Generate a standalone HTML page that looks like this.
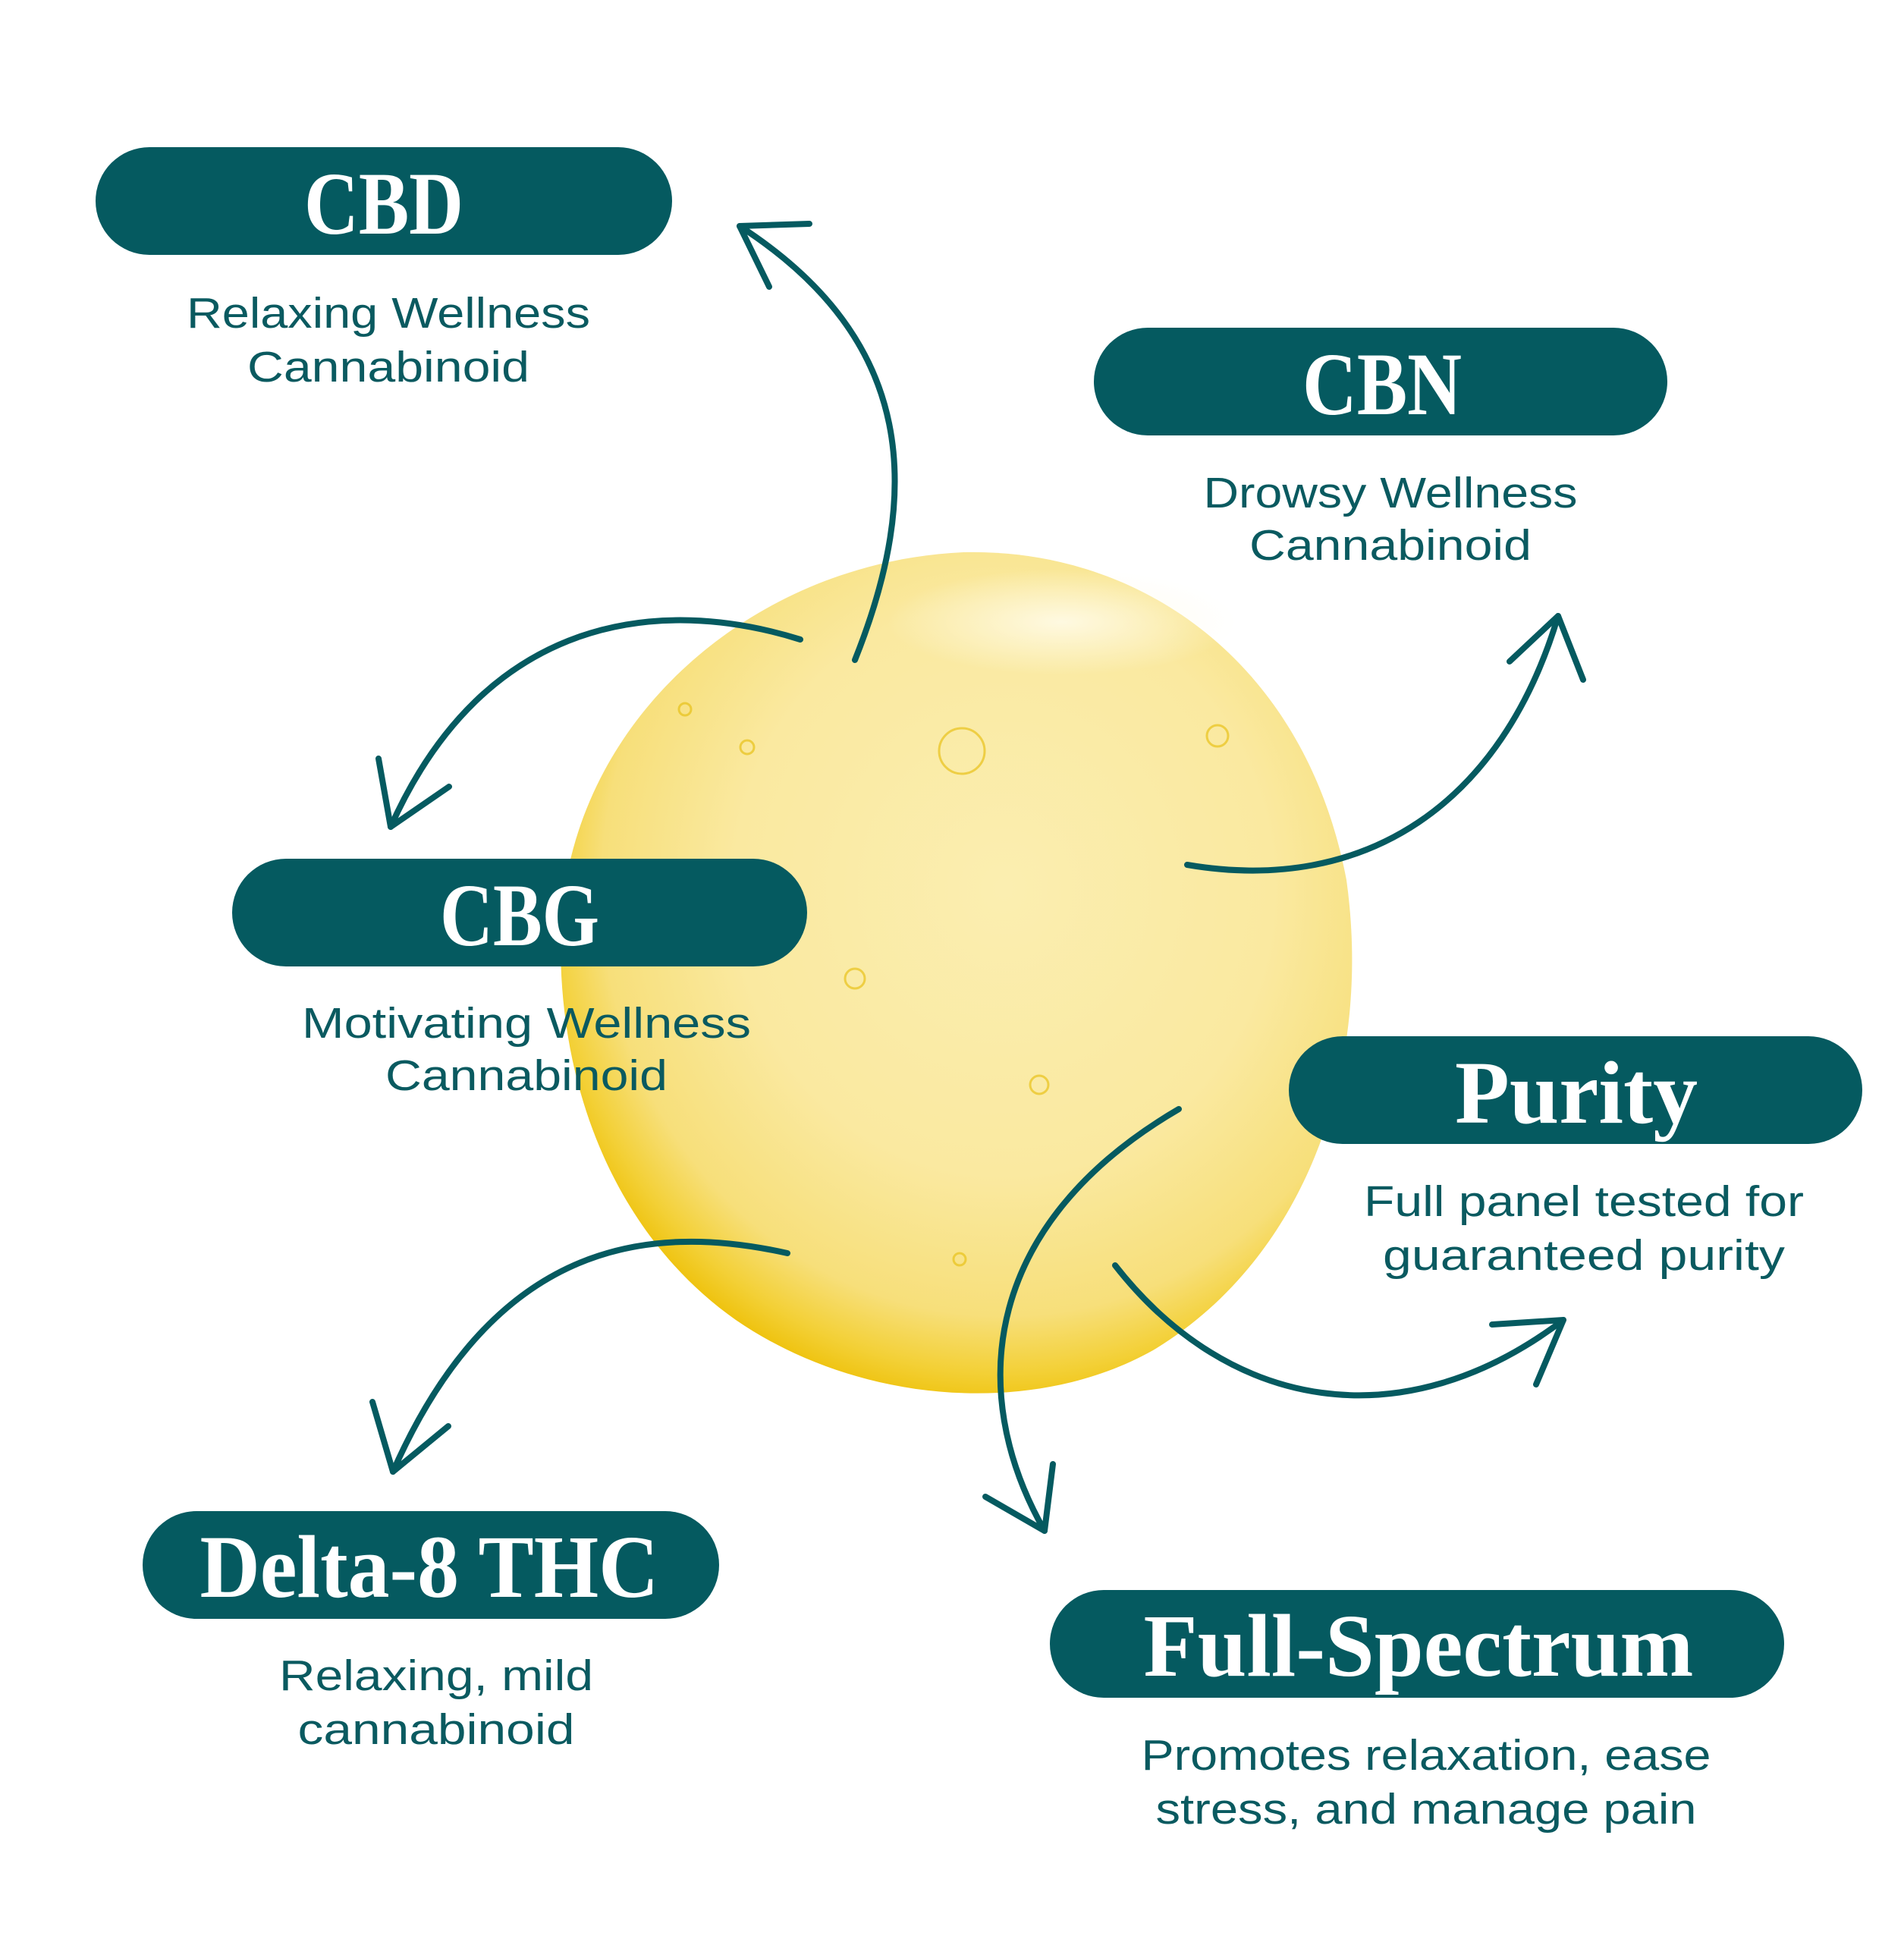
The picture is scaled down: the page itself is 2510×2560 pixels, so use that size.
<!DOCTYPE html>
<html><head><meta charset="utf-8"><style>
html,body{margin:0;padding:0;background:#fff}
svg{display:block}
</style></head><body>
<svg width="2510" height="2560" viewBox="0 0 2510 2560" xmlns="http://www.w3.org/2000/svg">
<defs>
<radialGradient id="blob" cx="0.56" cy="0.4" r="0.62">
<stop offset="0" stop-color="#fbeeb0"/>
<stop offset="0.55" stop-color="#fae9a0"/>
<stop offset="0.82" stop-color="#f7df7a"/>
<stop offset="0.93" stop-color="#f3d036"/>
<stop offset="1" stop-color="#eec10a"/>
</radialGradient>
<radialGradient id="hl" cx="0.5" cy="0.5" r="0.5">
<stop offset="0" stop-color="#fffbe8" stop-opacity="0.9"/>
<stop offset="1" stop-color="#fffbe8" stop-opacity="0"/>
</radialGradient>
</defs>
<rect width="2510" height="2560" fill="#fff"/>
<path d="M1270,728 C1500,722 1720,870 1775,1160 C1810,1410 1720,1660 1520,1780 C1360,1870 1130,1850 970,1740 C800,1620 730,1410 740,1210 C760,940 1000,740 1270,728 Z" fill="url(#blob)"/>
<ellipse cx="1400" cy="820" rx="230" ry="70" fill="url(#hl)"/>
<g fill="none" stroke="#e8c21a" stroke-width="3" opacity="0.7">
<circle cx="1268" cy="990" r="30"/><circle cx="1605" cy="970" r="14"/><circle cx="1127" cy="1290" r="13"/><circle cx="1370" cy="1430" r="12"/><circle cx="985" cy="985" r="9"/><circle cx="903" cy="935" r="8"/><circle cx="1265" cy="1660" r="8"/>
</g>
<g stroke="#055a60" stroke-width="8" fill="none" stroke-linecap="round" stroke-linejoin="round">
<path d="M1127,870 C1215,650 1210,450 975,298"/><path d="M1067,295 L975,298 L1014,378"/>
<path d="M1055,843 C870,785 640,810 515,1090"/><path d="M499,1000 L515,1090 L592,1037"/>
<path d="M1565,1140 C1800,1180 1980,1060 2054,812"/><path d="M1990,872 L2054,812 L2087,896"/>
<path d="M1038,1652 C850,1610 650,1640 518,1940"/><path d="M491,1848 L518,1940 L591,1880"/>
<path d="M1470,1668 C1620,1860 1850,1900 2061,1740"/><path d="M1967,1746 L2061,1740 L2025,1825"/>
<path d="M1554,1462 C1300,1610 1270,1830 1377,2018"/><path d="M1299,1973 L1377,2018 L1388,1930"/>
</g>
<g fill="#055a60">
<rect x="126" y="194" width="760" height="142" rx="71"/>
<rect x="1442" y="432" width="756" height="142" rx="71"/>
<rect x="306" y="1132" width="758" height="142" rx="71"/>
<rect x="1699" y="1366" width="756" height="142" rx="71"/>
<rect x="188" y="1992" width="760" height="142" rx="71"/>
<rect x="1384" y="2096" width="968" height="142" rx="71"/>
</g>
<g fill="#ffffff" font-family="'Liberation Serif',serif" font-weight="bold" font-size="118" text-anchor="middle">
<text x="506" y="308" textLength="210" lengthAdjust="spacingAndGlyphs">CBD</text>
<text x="1822" y="546" textLength="210" lengthAdjust="spacingAndGlyphs">CBN</text>
<text x="685" y="1246" textLength="210" lengthAdjust="spacingAndGlyphs">CBG</text>
<text x="2078" y="1480" textLength="320" lengthAdjust="spacingAndGlyphs">Purity</text>
<text x="566" y="2105" textLength="605" lengthAdjust="spacingAndGlyphs">Delta-8 THC</text>
<text x="1870" y="2209" textLength="725" lengthAdjust="spacingAndGlyphs">Full-Spectrum</text>
</g>
<g fill="#0a5a60" font-family="'Liberation Sans',sans-serif" font-size="57" text-anchor="middle">
<text x="512" y="432" textLength="532" lengthAdjust="spacingAndGlyphs">Relaxing Wellness</text>
<text x="512" y="503" textLength="372" lengthAdjust="spacingAndGlyphs">Cannabinoid</text>
<text x="1833" y="669" textLength="493" lengthAdjust="spacingAndGlyphs">Drowsy Wellness</text>
<text x="1833" y="738" textLength="372" lengthAdjust="spacingAndGlyphs">Cannabinoid</text>
<text x="694" y="1368" textLength="592" lengthAdjust="spacingAndGlyphs">Motivating Wellness</text>
<text x="694" y="1437" textLength="372" lengthAdjust="spacingAndGlyphs">Cannabinoid</text>
<text x="2088" y="1603" textLength="580" lengthAdjust="spacingAndGlyphs">Full panel tested for</text>
<text x="2088" y="1674" textLength="530" lengthAdjust="spacingAndGlyphs">guaranteed purity</text>
<text x="575" y="2228" textLength="414" lengthAdjust="spacingAndGlyphs">Relaxing, mild</text>
<text x="575" y="2299" textLength="365" lengthAdjust="spacingAndGlyphs">cannabinoid</text>
<text x="1880" y="2333" textLength="751" lengthAdjust="spacingAndGlyphs">Promotes relaxation, ease</text>
<text x="1880" y="2404" textLength="713" lengthAdjust="spacingAndGlyphs">stress, and manage pain</text>
</g>
</svg>
</body></html>
